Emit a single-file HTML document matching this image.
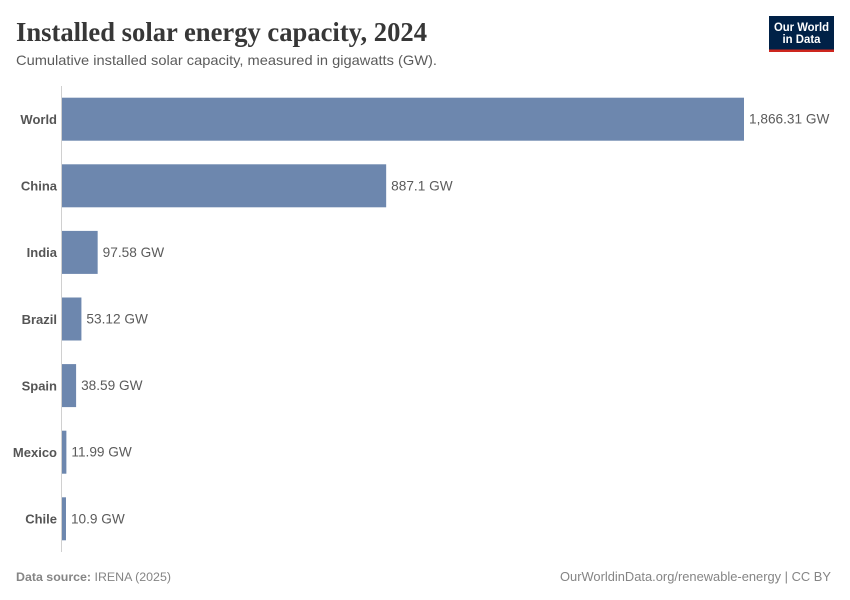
<!DOCTYPE html>
<html lang="en">
<head>
<meta charset="utf-8">
<title>Installed solar energy capacity, 2024</title>
<style>
  html, body { margin: 0; padding: 0; background: #fff; }
  svg { display: block; font-family: "Liberation Sans", sans-serif; }
</style>
</head>
<body>
<svg id="chart" width="850" height="600" viewBox="0 0 850 600" xmlns="http://www.w3.org/2000/svg">
  <text x="16" y="41" font-family="'Liberation Serif', serif" font-weight="700" font-size="27" fill="#373737" textLength="411" lengthAdjust="spacingAndGlyphs">Installed solar energy capacity, 2024</text>
  <text x="16" y="65" font-size="14" fill="#5b5b5b" textLength="421" lengthAdjust="spacingAndGlyphs">Cumulative installed solar capacity, measured in gigawatts (GW).</text>

  <g>
    <rect x="769" y="16" width="65" height="36" fill="#002147"/>
    <rect x="769" y="49.5" width="65" height="2.5" fill="#ce261e"/>
    <text x="801.5" y="31" text-anchor="middle" font-size="12" font-weight="700" fill="#fff" textLength="55" lengthAdjust="spacingAndGlyphs">Our World</text>
    <text x="801.5" y="43" text-anchor="middle" font-size="12" font-weight="700" fill="#fff" textLength="38" lengthAdjust="spacingAndGlyphs">in Data</text>
  </g>

  <line x1="61.5" y1="86" x2="61.5" y2="552" stroke="#d0d0d0" stroke-width="1"/>
  <g id="bars"></g>

  <text x="16" y="581" font-size="12.4" fill="#858585"><tspan font-weight="700">Data source:</tspan> <tspan>IRENA (2025)</tspan></text>
  <text x="831" y="581" text-anchor="end" font-size="13" fill="#858585" textLength="271" lengthAdjust="spacingAndGlyphs">OurWorldinData.org/renewable-energy | CC BY</text>
</svg>
<script>
const categories = ["World", "China", "India", "Brazil", "Spain", "Mexico", "Chile"];
const capacityValues = [1866.31, 887.1, 97.58, 53.12, 38.59, 11.99, 10.9];
const valueLabels = ["1,866.31 GW", "887.1 GW", "97.58 GW", "53.12 GW", "38.59 GW", "11.99 GW", "10.9 GW"];

const svgNS = "http://www.w3.org/2000/svg";
const plotLeft = 62;
const plotWidth = 682;
const plotTop = 97.7;
const bandStep = 66.6;
const barHeight = 43;
const domainMax = Math.max.apply(null, capacityValues);

function xScale(value) {
  return plotWidth * value / domainMax;
}
function yScale(index) {
  return plotTop + index * bandStep;
}

const barsGroup = document.getElementById("bars");
categories.forEach(function (category, i) {
  const y = yScale(i);
  const width = xScale(capacityValues[i]);
  const slug = category.toLowerCase();

  const label = document.createElementNS(svgNS, "text");
  
  
  label.setAttribute("x", plotLeft - 5);
  label.setAttribute("y", y + barHeight / 2 + 4.8);
  label.setAttribute("text-anchor", "end");
  label.setAttribute("font-size", "13");
  label.setAttribute("font-weight", "700");
  label.setAttribute("fill", "#555");
  label.textContent = category;
  barsGroup.appendChild(label);

  const bar = document.createElementNS(svgNS, "rect");
  
  
  bar.setAttribute("x", plotLeft);
  bar.setAttribute("y", y);
  bar.setAttribute("width", width);
  bar.setAttribute("height", barHeight);
  bar.setAttribute("fill", "#6d87ae");
  barsGroup.appendChild(bar);

  const value = document.createElementNS(svgNS, "text");
  
  
  value.setAttribute("x", plotLeft + width + 5);
  value.setAttribute("y", y + barHeight / 2 + 4.5);
  value.setAttribute("font-size", "13.65");
  value.setAttribute("fill", "#5b5b5b");
  value.textContent = valueLabels[i];
  barsGroup.appendChild(value);
});
</script>
</body>
</html>
